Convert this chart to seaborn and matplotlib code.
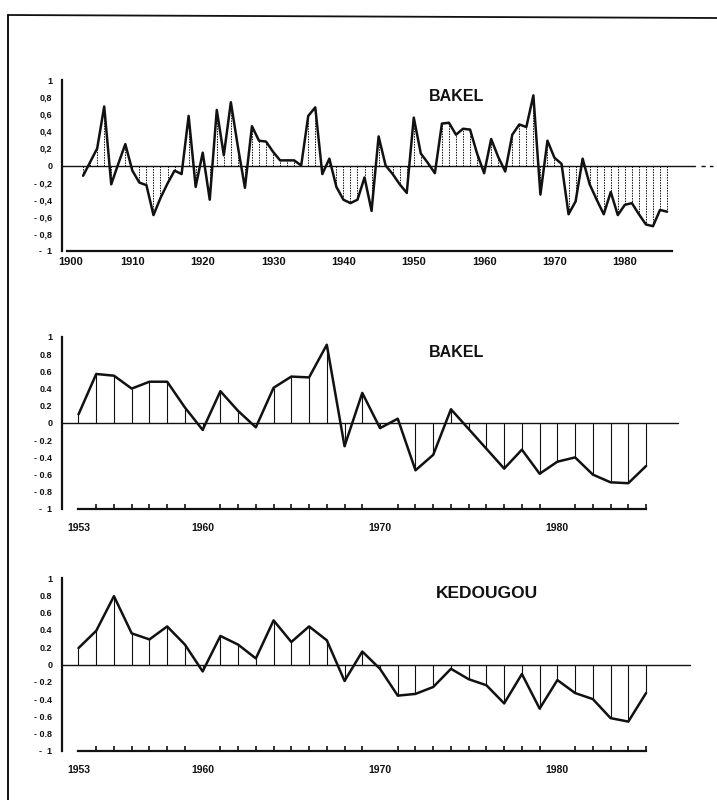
import numpy as np
import pandas as pd
import matplotlib
matplotlib.use("Agg")
import matplotlib.pyplot as plt
import matplotlib.transforms as mtransforms
from matplotlib.lines import Line2D
from matplotlib.ticker import FixedLocator
import seaborn as sns

# ---------------------------------------------------------------- data
bakel_long_years = list(range(1903, 1987))
bakel_long_values = [
    -0.12, 0.04, 0.20, 0.69, -0.22, 0.02, 0.25,                     # 1903-1909
    -0.06, -0.20, -0.23, -0.58, -0.38, -0.21, -0.06, -0.10, 0.58, -0.25,  # 1910s
    0.15, -0.40, 0.65, 0.12, 0.74, 0.22, -0.26, 0.46, 0.29, 0.28,     # 1920s
    0.16, 0.06, 0.06, 0.06, 0.00, 0.58, 0.68, -0.10, 0.08, -0.25,     # 1930s
    -0.40, -0.44, -0.40, -0.14, -0.53, 0.34, 0.00, -0.10, -0.22, -0.32,  # 1940s
    0.56, 0.14, 0.03, -0.09, 0.49, 0.50, 0.36, 0.43, 0.42, 0.14,      # 1950s
    -0.09, 0.31, 0.10, -0.07, 0.36, 0.48, 0.45, 0.82, -0.34, 0.29,    # 1960s
    0.09, 0.02, -0.57, -0.42, 0.08, -0.22, -0.40, -0.57, -0.31, -0.58,  # 1970s
    -0.46, -0.44, -0.57, -0.69, -0.71, -0.52, -0.54,                  # 1980-1986
]

short_years = list(range(1953, 1986))
bakel_short_values = [
    0.10, 0.57, 0.55, 0.40, 0.48, 0.48, 0.18,                          # 1953-1959
    -0.08, 0.37, 0.14, -0.05, 0.41, 0.54, 0.53, 0.91, -0.27, 0.35,    # 1960s
    -0.06, 0.05, -0.55, -0.37, 0.16, -0.07, -0.30, -0.53, -0.31, -0.59,  # 1970s
    -0.45, -0.40, -0.60, -0.69, -0.70, -0.50,                         # 1980-1985
]
kedougou_values = [
    0.19, 0.39, 0.79, 0.36, 0.29, 0.44, 0.23,                          # 1953-1959
    -0.08, 0.33, 0.23, 0.07, 0.51, 0.26, 0.44, 0.28, -0.19, 0.15,     # 1960s
    -0.05, -0.36, -0.34, -0.26, -0.05, -0.17, -0.24, -0.45, -0.11, -0.51,  # 1970s
    -0.18, -0.33, -0.40, -0.62, -0.66, -0.33,                         # 1980-1985
]

y_ticks = [1, 0.8, 0.6, 0.4, 0.2, 0, -0.2, -0.4, -0.6, -0.8, -1]
long_labels = ["1", "0,8", "0,6", "0,4", "0,2", "0",
               "- 0,2", "- 0,4", "- 0,6", "- 0,8", "-  1"]
short_labels = ["1", "0.8", "0.6", "0.4", "0.2", "0",
                "- 0.2", "- 0.4", "- 0.6", "- 0.8", "-  1"]
long_xticks = [1900, 1910, 1920, 1930, 1940, 1950, 1960, 1970, 1980]
short_xticks = [1953, 1960, 1970, 1980]

panels = [
    dict(title="BAKEL", years=bakel_long_years, values=bakel_long_values,
         ylabels=long_labels),
    dict(title="BAKEL", years=short_years, values=bakel_short_values,
         ylabels=short_labels),
    dict(title="KEDOUGOU", years=short_years, values=kedougou_values,
         ylabels=short_labels),
]

# ---------------------------------------------------------------- style
sns.set_theme(style="white")
plt.rcParams["font.family"] = ["Liberation Sans", "DejaVu Sans"]
plt.rcParams["font.weight"] = "bold"
INK = "#111111"

W, H = 717, 800
fig = plt.figure(figsize=(W / 100, H / 100), dpi=100)
fig.patch.set_facecolor("white")


def frac_box(left_px, right_px, top_px, bottom_px):
    return [left_px / W, 1 - bottom_px / H,
            (right_px - left_px) / W, (bottom_px - top_px) / H]


# page frame (top and left rules)
fig.add_artist(Line2D([8 / W, 1.0], [1 - 15 / H, 1 - 18 / H],
                      transform=fig.transFigure, color=INK, lw=1.3))
fig.add_artist(Line2D([8 / W, 8 / W], [1 - 15 / H, 0.0],
                      transform=fig.transFigure, color=INK, lw=1.4))

# axes placements (pixels) and x ranges
boxes = [frac_box(62, 717, 80, 251),
         frac_box(62, 717, 337, 509),
         frac_box(62, 717, 578, 751)]
xlims = [(1900.0, 1993.1), (1952.07, 1989.0), (1952.07, 1989.0)]
title_pos = [(0.602, 0.905), (0.602, 0.912), (0.649, 0.909)]
title_size = [11.5, 11.5, 12.5]
zero_end = [1990.0, 1986.8, 1987.5]

for i, (p, box) in enumerate(zip(panels, boxes)):
    ax = fig.add_axes(box)
    ax.set_facecolor("white")
    df = pd.DataFrame({"year": p["years"], "value": p["values"]})

    ax.set_xlim(*xlims[i])
    ax.set_ylim(-1, 1)

    # zero reference line
    ax.plot([xlims[i][0], zero_end[i]], [0, 0], color=INK, lw=1.0, zorder=2)
    if i == 0:
        ax.plot([1990.8, 1992.6], [0, 0], color=INK, lw=1.0,
                ls=(0, (3, 3)), zorder=2)

    # drop lines from zero to each yearly value
    if i == 0:
        ax.vlines(df["year"], 0, df["value"], color=INK, lw=0.7,
                  ls=(0, (1.5, 1.2)), zorder=1)
    else:
        ax.vlines(df["year"], 0, df["value"], color=INK, lw=0.8, zorder=1)

    sns.lineplot(data=df, x="year", y="value", ax=ax, color=INK, lw=1.8,
                 zorder=3, legend=False)

    ax.set_xlabel("")
    ax.set_ylabel("")

    # axes: left rule and partial bottom rule
    for s in ("top", "right"):
        ax.spines[s].set_visible(False)
    ax.spines["left"].set_color(INK)
    ax.spines["left"].set_linewidth(1.6)
    ax.spines["bottom"].set_color(INK)
    ax.spines["bottom"].set_linewidth(1.6)
    if i == 0:
        ax.spines["bottom"].set_bounds(1900.7, 1986.7)
    else:
        ax.spines["bottom"].set_bounds(1953, 1985)

    ax.set_yticks(y_ticks)
    ax.set_yticklabels(p["ylabels"], fontsize=6.5, fontweight="bold")
    ax.tick_params(axis="y", direction="in", length=3, width=1.2,
                   color=INK, pad=7, labelcolor=INK)

    if i == 0:
        ax.set_xticks(long_xticks)
        ax.set_xticklabels([str(y) for y in long_xticks], fontsize=8,
                           fontweight="bold")
        ax.tick_params(axis="x", direction="in", length=7, width=1.2,
                       color=INK, pad=4, labelcolor=INK)
        ax.xaxis.get_major_ticks()[0].tick1line.set_visible(False)
        lbl = ax.get_xticklabels()[0]
        lbl.set_transform(lbl.get_transform() + mtransforms.ScaledTranslation(
            9 / 100, 0, fig.dpi_scale_trans))
    else:
        ax.set_xticks(short_xticks)
        ax.set_xticklabels([str(y) for y in short_xticks], fontsize=7.5,
                           fontweight="bold")
        ax.xaxis.set_minor_locator(FixedLocator(np.arange(1954, 1986)))
        ax.tick_params(axis="x", which="major", direction="in", length=8,
                       width=1.2, color=INK, pad=10, labelcolor=INK)
        ax.tick_params(axis="x", which="minor", direction="in", length=3.5,
                       width=1.2, color=INK, bottom=True)
        ax.xaxis.get_major_ticks()[0].tick1line.set_markersize(3.5)

    ax.text(*title_pos[i], p["title"], transform=ax.transAxes, ha="center",
            va="center", fontsize=title_size[i], fontweight="bold", color=INK)
    ax.grid(False)

fig.savefig("out.png", dpi=100, facecolor="white")
